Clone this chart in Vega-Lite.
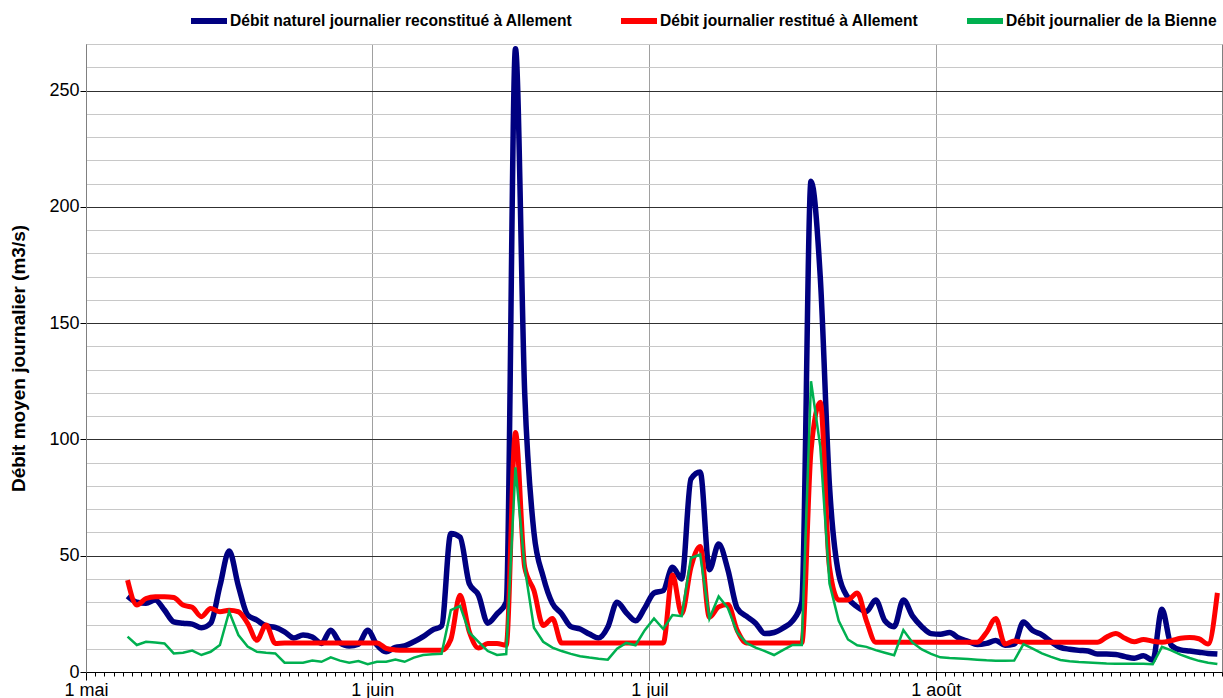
{
  "$schema": "https://vega.github.io/schema/vega-lite/v6.json",
  "width": 1136,
  "height": 628,
  "autosize": {"type": "none"},
  "padding": {"left": 86, "top": 44, "right": 1, "bottom": 26},
  "background": "white",
  "config": {
    "view": {"stroke": "#808080", "strokeWidth": 1},
    "font": "Liberation Sans",
    "legend": {
      "orient": "none",
      "legendX": 102,
      "legendY": -44,
      "direction": "horizontal",
      "padding": 0,
      "symbolType": "stroke",
      "symbolSize": 1296,
      "symbolStrokeWidth": 6,
      "columnPadding": 36,
      "labelOffset": 0,
      "labelFont": "Liberation Sans",
      "labelFontSize": 15.6,
      "labelFontWeight": "bold",
      "labelColor": "#000000",
      "labelLimit": 600
    }
  },
  "data": {"values": [
    {"date": "2012-05-05T12:00", "n": 32.6, "r": 39.5, "b": 15.2},
    {"date": "2012-05-06T12:00", "n": 30, "r": 28.8, "b": 11.6},
    {"date": "2012-05-07T12:00", "n": 29.6, "r": 31.6, "b": 13},
    {"date": "2012-05-08T12:00", "n": 31, "r": 32.4, "b": 12.7},
    {"date": "2012-05-09T12:00", "n": 26.6, "r": 32.4, "b": 12.3},
    {"date": "2012-05-10T12:00", "n": 21.6, "r": 32, "b": 8},
    {"date": "2012-05-11T12:00", "n": 21, "r": 28.8, "b": 8.3},
    {"date": "2012-05-12T12:00", "n": 20.6, "r": 27.8, "b": 9.2},
    {"date": "2012-05-13T12:00", "n": 19, "r": 23.8, "b": 7.3},
    {"date": "2012-05-14T12:00", "n": 21, "r": 27.3, "b": 8.7},
    {"date": "2012-05-15T12:00", "n": 37, "r": 25.9, "b": 11.6},
    {"date": "2012-05-16T12:00", "n": 52, "r": 26.5, "b": 25.9},
    {"date": "2012-05-17T12:00", "n": 37, "r": 25.9, "b": 15.9},
    {"date": "2012-05-18T12:00", "n": 24.5, "r": 20.9, "b": 10.9},
    {"date": "2012-05-19T12:00", "n": 22.3, "r": 13.7, "b": 8.7},
    {"date": "2012-05-20T12:00", "n": 19.8, "r": 20.2, "b": 8.3},
    {"date": "2012-05-21T12:00", "n": 19.2, "r": 12.3, "b": 8},
    {"date": "2012-05-22T12:00", "n": 17.3, "r": 12.5, "b": 4},
    {"date": "2012-05-23T12:00", "n": 14.6, "r": 12.5, "b": 4},
    {"date": "2012-05-24T12:00", "n": 15.9, "r": 12.5, "b": 4},
    {"date": "2012-05-25T12:00", "n": 15, "r": 12.5, "b": 4.9},
    {"date": "2012-05-26T12:00", "n": 12.3, "r": 12.5, "b": 4.4},
    {"date": "2012-05-27T12:00", "n": 18, "r": 12.5, "b": 6.3},
    {"date": "2012-05-28T12:00", "n": 12.6, "r": 12.5, "b": 4.9},
    {"date": "2012-05-29T12:00", "n": 11.2, "r": 12.5, "b": 4},
    {"date": "2012-05-30T12:00", "n": 12, "r": 12.5, "b": 4.7},
    {"date": "2012-05-31T12:00", "n": 18, "r": 12.5, "b": 3.4},
    {"date": "2012-06-01T12:00", "n": 11.6, "r": 12.5, "b": 4.4},
    {"date": "2012-06-02T12:00", "n": 8.7, "r": 10.2, "b": 4.4},
    {"date": "2012-06-03T12:00", "n": 10.6, "r": 9.5, "b": 5.4},
    {"date": "2012-06-04T12:00", "n": 11.2, "r": 9.3, "b": 4.4},
    {"date": "2012-06-05T12:00", "n": 13, "r": 9.3, "b": 6.2},
    {"date": "2012-06-06T12:00", "n": 15.2, "r": 9.3, "b": 7.3},
    {"date": "2012-06-07T12:00", "n": 18, "r": 9.3, "b": 7.6},
    {"date": "2012-06-08T12:00", "n": 19.8, "r": 9.3, "b": 7.8},
    {"date": "2012-06-09T12:00", "n": 59.6, "r": 14, "b": 26.6},
    {"date": "2012-06-10T12:00", "n": 58, "r": 33, "b": 28.4},
    {"date": "2012-06-11T12:00", "n": 38, "r": 17.3, "b": 17},
    {"date": "2012-06-12T12:00", "n": 33, "r": 10.3, "b": 13},
    {"date": "2012-06-13T12:00", "n": 21, "r": 12.3, "b": 9},
    {"date": "2012-06-14T12:00", "n": 25, "r": 12.3, "b": 7.3},
    {"date": "2012-06-15T12:00", "n": 30, "r": 11.5, "b": 7.7},
    {"date": "2012-06-16T12:00", "n": 268, "r": 103, "b": 88},
    {"date": "2012-06-17T12:00", "n": 120, "r": 45, "b": 45},
    {"date": "2012-06-18T12:00", "n": 60, "r": 35, "b": 19},
    {"date": "2012-06-19T12:00", "n": 41, "r": 20, "b": 13},
    {"date": "2012-06-20T12:00", "n": 29.5, "r": 23, "b": 10.5},
    {"date": "2012-06-21T12:00", "n": 25, "r": 12.5, "b": 9},
    {"date": "2012-06-22T12:00", "n": 19.5, "r": 12.5, "b": 7.8},
    {"date": "2012-06-23T12:00", "n": 18.5, "r": 12.5, "b": 6.8},
    {"date": "2012-06-24T12:00", "n": 16.3, "r": 12.5, "b": 6.2},
    {"date": "2012-06-25T12:00", "n": 14.6, "r": 12.5, "b": 5.7},
    {"date": "2012-06-26T12:00", "n": 19.3, "r": 12.5, "b": 5.3},
    {"date": "2012-06-27T12:00", "n": 30, "r": 12.5, "b": 10},
    {"date": "2012-06-28T12:00", "n": 25.5, "r": 12.5, "b": 12.5},
    {"date": "2012-06-29T12:00", "n": 22, "r": 12.5, "b": 11.5},
    {"date": "2012-06-30T12:00", "n": 27.5, "r": 12.5, "b": 18},
    {"date": "2012-07-01T12:00", "n": 34, "r": 12.5, "b": 23},
    {"date": "2012-07-02T12:00", "n": 35, "r": 12.5, "b": 18.5},
    {"date": "2012-07-03T12:00", "n": 45, "r": 41.7, "b": 24.5},
    {"date": "2012-07-04T12:00", "n": 40, "r": 25, "b": 24},
    {"date": "2012-07-05T12:00", "n": 83, "r": 45, "b": 49},
    {"date": "2012-07-06T12:00", "n": 86, "r": 54, "b": 50.5},
    {"date": "2012-07-07T12:00", "n": 44, "r": 23.5, "b": 23},
    {"date": "2012-07-08T12:00", "n": 55, "r": 28, "b": 32.5},
    {"date": "2012-07-09T12:00", "n": 44, "r": 29, "b": 27.5},
    {"date": "2012-07-10T12:00", "n": 27.5, "r": 18, "b": 17},
    {"date": "2012-07-11T12:00", "n": 24, "r": 12.5, "b": 12.5},
    {"date": "2012-07-12T12:00", "n": 21, "r": 12.5, "b": 10.5},
    {"date": "2012-07-13T12:00", "n": 16.5, "r": 12.5, "b": 9},
    {"date": "2012-07-14T12:00", "n": 17, "r": 12.5, "b": 7.3},
    {"date": "2012-07-15T12:00", "n": 19, "r": 12.5, "b": 9.5},
    {"date": "2012-07-16T12:00", "n": 22, "r": 12.5, "b": 11.6},
    {"date": "2012-07-17T12:00", "n": 30, "r": 12.5, "b": 11.6},
    {"date": "2012-07-18T12:00", "n": 211, "r": 95, "b": 125},
    {"date": "2012-07-19T12:00", "n": 170, "r": 116, "b": 97},
    {"date": "2012-07-20T12:00", "n": 80, "r": 45, "b": 38},
    {"date": "2012-07-21T12:00", "n": 42, "r": 31, "b": 22},
    {"date": "2012-07-22T12:00", "n": 32, "r": 31, "b": 14},
    {"date": "2012-07-23T12:00", "n": 28, "r": 34, "b": 11.5},
    {"date": "2012-07-24T12:00", "n": 26, "r": 22, "b": 10.8},
    {"date": "2012-07-25T12:00", "n": 31, "r": 12.8, "b": 9.4},
    {"date": "2012-07-26T12:00", "n": 22, "r": 12.8, "b": 8.3},
    {"date": "2012-07-27T12:00", "n": 19.5, "r": 12.8, "b": 7.2},
    {"date": "2012-07-28T12:00", "n": 31, "r": 12.8, "b": 18},
    {"date": "2012-07-29T12:00", "n": 24, "r": 12.8, "b": 12.6},
    {"date": "2012-07-30T12:00", "n": 19.5, "r": 12.8, "b": 9.7},
    {"date": "2012-07-31T12:00", "n": 16.5, "r": 12.8, "b": 7.8},
    {"date": "2012-08-01T12:00", "n": 16.2, "r": 12.8, "b": 6.3},
    {"date": "2012-08-02T12:00", "n": 17, "r": 12.8, "b": 6},
    {"date": "2012-08-03T12:00", "n": 14.6, "r": 12.8, "b": 5.8},
    {"date": "2012-08-04T12:00", "n": 13.2, "r": 12.8, "b": 5.6},
    {"date": "2012-08-05T12:00", "n": 11.8, "r": 12.8, "b": 5.3},
    {"date": "2012-08-06T12:00", "n": 12.3, "r": 17, "b": 5},
    {"date": "2012-08-07T12:00", "n": 13.5, "r": 23, "b": 4.8},
    {"date": "2012-08-08T12:00", "n": 11.5, "r": 12, "b": 4.8},
    {"date": "2012-08-09T12:00", "n": 12, "r": 13.3, "b": 4.9},
    {"date": "2012-08-10T12:00", "n": 21.5, "r": 12.8, "b": 12},
    {"date": "2012-08-11T12:00", "n": 17.8, "r": 12.8, "b": 10},
    {"date": "2012-08-12T12:00", "n": 16, "r": 12.8, "b": 8},
    {"date": "2012-08-13T12:00", "n": 13, "r": 12.8, "b": 6.5},
    {"date": "2012-08-14T12:00", "n": 10.6, "r": 12.8, "b": 5.2},
    {"date": "2012-08-15T12:00", "n": 9.8, "r": 12.8, "b": 4.6},
    {"date": "2012-08-16T12:00", "n": 9.3, "r": 12.8, "b": 4.3},
    {"date": "2012-08-17T12:00", "n": 9, "r": 12.8, "b": 4.1},
    {"date": "2012-08-18T12:00", "n": 7.7, "r": 12.8, "b": 3.9},
    {"date": "2012-08-19T12:00", "n": 7.7, "r": 15, "b": 3.7},
    {"date": "2012-08-20T12:00", "n": 7.5, "r": 16.5, "b": 3.6},
    {"date": "2012-08-21T12:00", "n": 6.6, "r": 14.5, "b": 3.6},
    {"date": "2012-08-22T12:00", "n": 5.9, "r": 13, "b": 3.5},
    {"date": "2012-08-23T12:00", "n": 7, "r": 14, "b": 3.5},
    {"date": "2012-08-24T12:00", "n": 5, "r": 13.2, "b": 3.3},
    {"date": "2012-08-25T12:00", "n": 27, "r": 12.8, "b": 10.8},
    {"date": "2012-08-26T12:00", "n": 11.5, "r": 13.5, "b": 9.3},
    {"date": "2012-08-27T12:00", "n": 9.5, "r": 14.5, "b": 7.5},
    {"date": "2012-08-28T12:00", "n": 9, "r": 14.8, "b": 6},
    {"date": "2012-08-29T12:00", "n": 8.5, "r": 14.3, "b": 4.8},
    {"date": "2012-08-30T12:00", "n": 8, "r": 12, "b": 4},
    {"date": "2012-08-31T12:00", "n": 7.7, "r": 34, "b": 3.4}
  ]},
  "transform": [{"fold": ["n", "r", "b"], "as": ["serie", "value"]}],
  "layer": [
    {
      "transform": [{"filter": "datum.serie === 'n'"}],
      "mark": {"type": "line", "interpolate": "monotone", "strokeWidth": 5.5},
      "encoding": {
        "x": {
          "field": "date", "type": "temporal",
          "scale": {"domain": [{"year": 2012, "month": 5, "date": 1}, {"year": 2012, "month": 9, "date": 1}]},
          "axis": {"orient": "bottom", "title": null, "labels": false, "grid": false, "domain": false,
                   "tickCount": {"interval": "day", "step": 1}, "tickSize": 4, "tickColor": "#000000", "tickWidth": 1}
        },
        "y": {
          "field": "value", "type": "quantitative",
          "scale": {"domain": [0, 270], "nice": false},
          "axis": {"orient": "left", "title": null, "labels": false, "ticks": false, "domain": false,
                   "values": [10, 20, 30, 40, 60, 70, 80, 90, 110, 120, 130, 140, 160, 170, 180, 190, 210, 220, 230, 240, 260, 270],
                   "grid": true, "gridColor": "#c8c8c8", "gridWidth": 1, "gridOpacity": 1}
        },
        "color": {
          "field": "serie", "type": "nominal",
          "scale": {"domain": ["n", "r", "b"], "range": ["#000080", "#ff0000", "#00b050"]},
          "legend": {
            "title": null,
            "labelExpr": "datum.label === 'n' ? 'Débit naturel journalier reconstitué à Allement' : datum.label === 'r' ? 'Débit journalier restitué à Allement' : 'Débit journalier de la Bienne'"
          }
        }
      }
    },
    {
      "transform": [{"filter": "datum.serie === 'r'"}],
      "mark": {"type": "line", "interpolate": "monotone", "strokeWidth": 5},
      "encoding": {
        "x": {
          "field": "date", "type": "temporal",
          "axis": {"orient": "bottom", "title": null,
                   "values": [{"year": 2012, "month": 5, "date": 1}, {"year": 2012, "month": 6, "date": 1}, {"year": 2012, "month": 7, "date": 1}, {"year": 2012, "month": 8, "date": 1}],
                   "labelExpr": "'1 ' + ['janv', 'févr', 'mars', 'avr', 'mai', 'juin', 'juil', 'août', 'sept', 'oct', 'nov', 'déc'][month(datum.value)]",
                   "labelFontSize": 18, "labelColor": "#000000", "labelPadding": 1, "labelFlush": false,
                   "tickSize": 8, "tickColor": "#000000", "domainColor": "#000000", "domainWidth": 1,
                   "grid": true, "gridColor": "#a0a0a0", "gridWidth": 1, "gridOpacity": 1}
        },
        "y": {
          "field": "value", "type": "quantitative",
          "axis": {"orient": "left", "title": "Débit moyen journalier (m3/s)",
                   "titleFontSize": 19, "titleFontWeight": "bold", "titleColor": "#000000", "titlePadding": 20,
                   "values": [0, 50, 100, 150, 200, 250],
                   "labelFontSize": 18, "labelColor": "#000000", "labelPadding": 1,
                   "tickSize": 6, "tickColor": "#000000", "domainColor": "#808080",
                   "grid": true, "gridColor": "#303030", "gridWidth": 1, "gridOpacity": 1}
        },
        "color": {"field": "serie", "type": "nominal"}
      }
    },
    {
      "transform": [{"filter": "datum.serie === 'b'"}],
      "mark": {"type": "line", "interpolate": "linear", "strokeWidth": 2.5},
      "encoding": {
        "x": {"field": "date", "type": "temporal", "axis": null},
        "y": {"field": "value", "type": "quantitative", "axis": null},
        "color": {"field": "serie", "type": "nominal"}
      }
    }
  ],
  "resolve": {"axis": {"x": "independent", "y": "independent"}}
}
